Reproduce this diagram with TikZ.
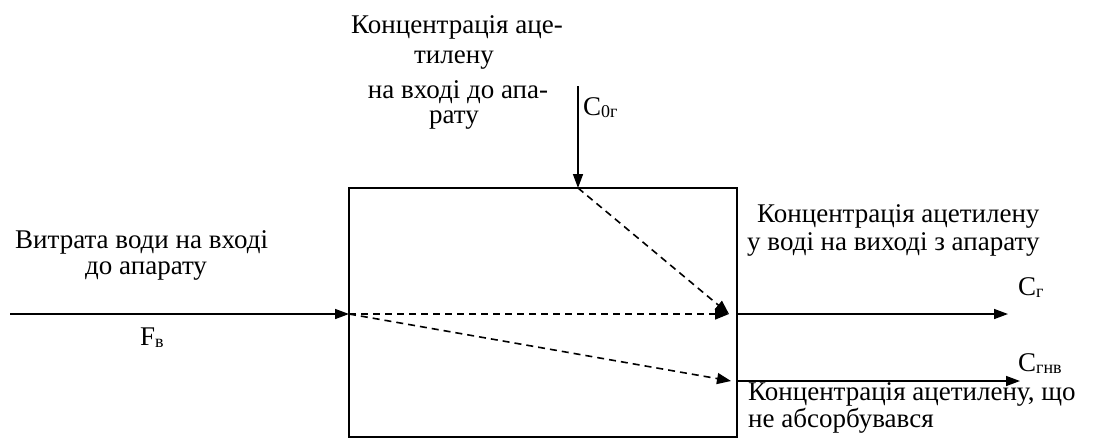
\documentclass[tikz,border=0pt]{standalone}
\usepackage{fontspec}
\setmainfont{Liberation Serif}
\usetikzlibrary{arrows.meta}
\newcommand{\sbs}[1]{\raisebox{-2pt}{\fontsize{18}{18}\selectfont #1}}
\begin{document}
\begin{tikzpicture}[x=1pt,y=-1pt,
  lbl/.style={inner sep=0pt,anchor=base,font=\fontsize{27}{29}\selectfont},
  lblw/.style={lbl,anchor=base west},
  arr/.style={line width=1.5pt,-{Triangle[length=14pt,width=10pt]}},
  darr/.style={line width=1.6pt,dash pattern=on 7pt off 5pt,-{Triangle[length=14pt,width=11pt]}}]
\useasboundingbox (0,0) rectangle (1094,439);
\node[draw,line width=1.5pt,minimum width=388pt,minimum height=249pt,inner sep=0pt] (app) at (543,312.5) {};
\coordinate (inL) at (349,314);
\coordinate (inT) at (578,188);
\coordinate (src) at (10,314);
\coordinate (top) at (578,86);
\coordinate (m1) at (729,314);
\coordinate (m2) at (731,381);
\coordinate (o1s) at (737,314);
\coordinate (o2s) at (737,381);
\coordinate (o1e) at (1008,314);
\coordinate (o2e) at (1020,381);
\draw[arr] (src) -- (inL);
\draw[arr] (top) -- (inT);
\draw[darr] (inT) -- (m1);
\draw[darr] (inL) -- (m1);
\draw[darr] (inL) -- (m2);
\draw[arr] (o1s) -- (o1e);
\draw[arr] (o2s) -- (o2e);
% texts
\node[lbl] (t1) at (457,33) {Концентрація аце-};
\node[lbl] (t2) at (454,63) {тилену};
\node[lbl] (t3) at (458,98) {на вході до апа-};
\node[lbl] (t4) at (454,123) {рату};
\node[lblw] (c0) at (583,115) {C\sbs{0г}};
\node[lblw] (w1) at (15,248) {Витрата води на вході};
\node[lblw] (w2) at (85,274) {до апарату};
\node[lblw] (fv) at (140,345) {F\sbs{в}};
\node[lblw] (r1) at (757,222) {Концентрація ацетилену};
\node[lblw] (r2) at (747,250) {у воді на виході з апарату};
\node[lblw] (cg) at (1018,295) {C\sbs{г}};
\node[lblw] (cgnv) at (1018,371) {C\sbs{гнв}};
\node[lblw] (b1) at (748,400) {Концентрація ацетилену, що};
\node[lblw] (b2) at (748,427) {не абсорбувався};
\end{tikzpicture}
\end{document}
